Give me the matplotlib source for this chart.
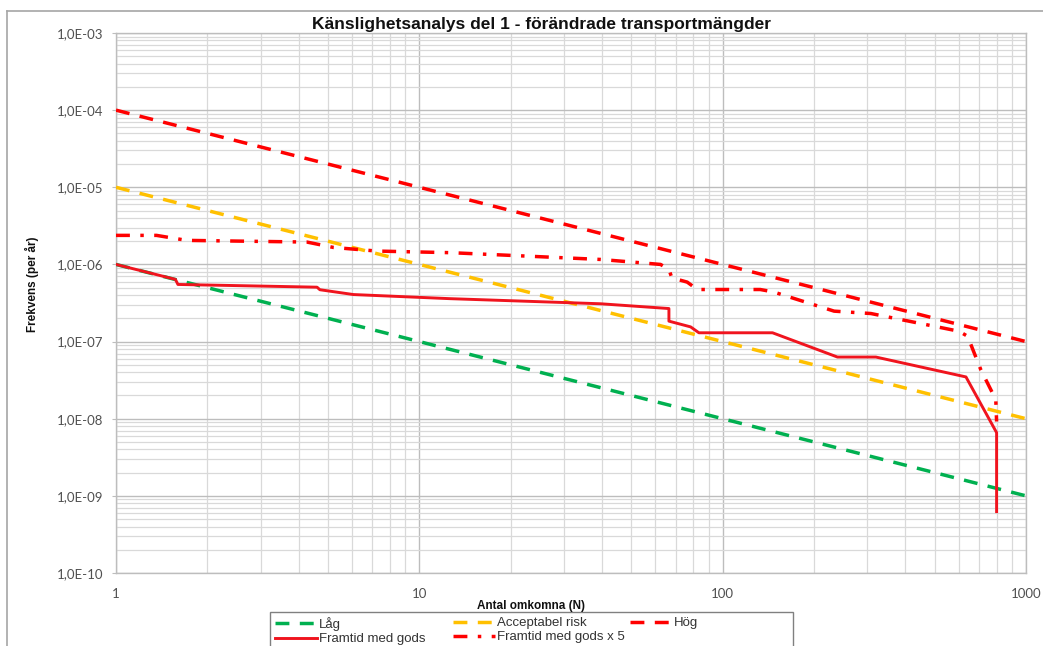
import matplotlib
matplotlib.use("Agg")
import matplotlib.pyplot as plt
from matplotlib.ticker import FixedLocator, FixedFormatter, LogLocator, NullFormatter
from matplotlib.lines import Line2D

# Reference criteria lines (F-N curves)
n_ref = [1, 1000]
f_low = [1e-6, 1e-9]
f_accept = [1e-5, 1e-8]
f_high = [1e-4, 1e-7]

# Future scenario with dangerous goods
n_future = [1, 1.57, 1.6, 4.6, 4.7, 6.06, 12.6, 39.6, 66.5, 66.5, 78.4, 83.5,
            146, 239, 320, 634, 800, 800]
f_future = [1e-6, 6.4e-7, 5.5e-7, 5.07e-7, 4.7e-7, 4.07e-7, 3.6e-7, 3.09e-7,
            2.68e-7, 1.84e-7, 1.55e-7, 1.30e-7, 1.30e-7, 6.3e-8, 6.3e-8,
            3.48e-8, 6.6e-9, 6.25e-10]

# Future scenario with five times the dangerous goods
n_future5 = [1, 1.36, 1.71, 4.26, 5.21, 7.25, 12.7, 39.6, 62.4, 66.5, 68, 76.4,
             82.5, 133, 147, 233, 308, 602, 642, 710, 795, 800]
f_future5 = [2.38e-6, 2.38e-6, 2.05e-6, 1.95e-6, 1.66e-6, 1.49e-6, 1.42e-6,
             1.16e-6, 1.0e-6, 8.6e-7, 6.7e-7, 5.9e-7, 4.73e-7, 4.73e-7, 4.4e-7,
             2.48e-7, 2.31e-7, 1.36e-7, 1.17e-7, 4.3e-8, 1.77e-8, 9.2e-9]

x_ticks = [1, 10, 100, 1000]
x_labels = ["1", "10", "100", "1000"]
y_ticks = [1e-10, 1e-9, 1e-8, 1e-7, 1e-6, 1e-5, 1e-4, 1e-3]
y_labels = ["1,0E-10", "1,0E-09", "1,0E-08", "1,0E-07",
            "1,0E-06", "1,0E-05", "1,0E-04", "1,0E-03"]

GREEN = "#00B050"
ORANGE = "#FFC000"
RED = "#FF0000"
SOLID_RED = "#F0141E"
TICK_FONT = "Lato"
TEXT_FONT = "Liberation Sans"

W, H = 1043, 646
fig = plt.figure(figsize=(W / 100, H / 100), dpi=100)


def fx(px):
    return px / W


def fy(py):
    return 1 - py / H


ax = fig.add_axes([fx(116), fy(573), (1026 - 116) / W, (573 - 33) / H])
ax.set_xscale("log")
ax.set_yscale("log")
ax.set_xlim(1, 1000)
ax.set_ylim(1e-10, 1e-3)

dash = (0, (4, 3))
dashdot = (0, (4, 3, 1, 3))
lw = 2.5

l_low, = ax.plot(n_ref, f_low, color=GREEN, lw=lw, ls=dash, label="Låg", zorder=3)
l_acc, = ax.plot(n_ref, f_accept, color=ORANGE, lw=lw, ls=dash,
                 label="Acceptabel risk", zorder=3)
l_high, = ax.plot(n_ref, f_high, color=RED, lw=lw, ls=dash, label="Hög", zorder=3)
l_fut5, = ax.plot(n_future5, f_future5, color=RED, lw=lw, ls=dashdot,
                  label="Framtid med gods x 5", zorder=4)
l_fut, = ax.plot(n_future, f_future, color=SOLID_RED, lw=2.1, ls="-",
                 label="Framtid med gods", zorder=5)

# Grid: major and minor decades
ax.xaxis.set_major_locator(FixedLocator(x_ticks))
ax.xaxis.set_major_formatter(FixedFormatter(x_labels))
ax.yaxis.set_major_locator(FixedLocator(y_ticks))
ax.yaxis.set_major_formatter(FixedFormatter(y_labels))
ax.xaxis.set_minor_locator(LogLocator(base=10, subs=range(2, 10), numticks=50))
ax.yaxis.set_minor_locator(LogLocator(base=10, subs=range(2, 10), numticks=50))
ax.xaxis.set_minor_formatter(NullFormatter())
ax.yaxis.set_minor_formatter(NullFormatter())
ax.grid(which="major", color="#BDBDBD", lw=1.0, zorder=0)
ax.grid(which="minor", color="#D9D9D9", lw=0.9, zorder=0)
ax.set_axisbelow(True)
for s in ax.spines.values():
    s.set_color("#BDBDBD")
    s.set_linewidth(1.0)

ax.tick_params(axis="y", which="major", length=3, color="#BDBDBD", pad=6,
               labelsize=9.5, labelcolor="#505050")
ax.tick_params(axis="x", which="major", length=0, pad=11,
               labelsize=9.5, labelcolor="#505050")
ax.tick_params(which="minor", length=0)
for lab in ax.get_xticklabels() + ax.get_yticklabels():
    lab.set_fontfamily(TICK_FONT)

# Titles and axis labels
fig.text(fx(541), fy(25), "Känslighetsanalys del 1 - förändrade transportmängder",
         ha="center", va="center", fontsize=12.5, fontweight="bold",
         family=TEXT_FONT, color="#111111")
fig.text(fx(531), fy(606), "Antal omkomna (N)", ha="center", va="center",
         fontsize=8.5, fontweight="bold", family=TEXT_FONT, color="#111111")
fig.text(fx(32), fy(284), "Frekvens (per år)", ha="center", va="center",
         rotation=90, fontsize=8.5, fontweight="bold", family=TEXT_FONT,
         color="#111111")

# Outer chart frame
fig.add_artist(Line2D([fx(7), fx(7)], [fy(11), fy(700)], transform=fig.transFigure,
                      color="#A6A6A6", lw=1.2))
fig.add_artist(Line2D([fx(7), fx(1100)], [fy(11), fy(11)], transform=fig.transFigure,
                      color="#A6A6A6", lw=1.2))

# Legend box and entries laid out in a fixed grid
fig.add_artist(plt.Rectangle((fx(270), fy(700)), (793 - 270) / W, (700 - 612) / H,
                             transform=fig.transFigure, fill=False,
                             edgecolor="#808080", lw=1.0))
leg_kw = dict(loc="upper left", frameon=False, borderpad=0, borderaxespad=0,
              handlelength=3.2, handletextpad=0.15, labelspacing=0.15,
              prop={"family": TEXT_FONT, "size": 9.5})
columns = [([l_low, l_fut], 275), ([l_acc, l_fut5], 453), ([l_high], 630)]
for handles, x0 in columns:
    lg = fig.legend(handles=handles, bbox_to_anchor=(fx(x0), fy(617)), **leg_kw)
    for t in lg.get_texts():
        t.set_color("#333333")

fig.savefig("out.png", dpi=100)
